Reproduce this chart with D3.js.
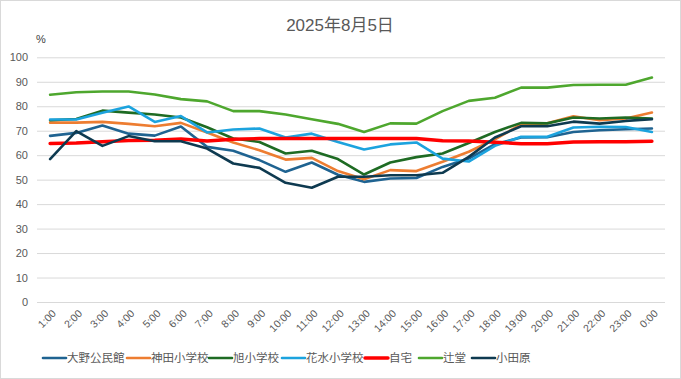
<!DOCTYPE html>
<html>
<head>
<meta charset="utf-8">
<script src="https://cdn.jsdelivr.net/npm/d3@7"></script>
<style>
  body { margin: 0; background: #fff; }
  svg { font-family: "Liberation Sans", "Noto Sans CJK JP", sans-serif; }
</style>
</head>
<body>
<div id="chart"></div>
<script>
const hours = ["1:00","2:00","3:00","4:00","5:00","6:00","7:00","8:00","9:00","10:00","11:00","12:00",
  "13:00","14:00","15:00","16:00","17:00","18:00","19:00","20:00","21:00","22:00","23:00","0:00"];
const yTicks = [0, 10, 20, 30, 40, 50, 60, 70, 80, 90, 100];

const ohno     = [67.9,69.1,72.1,68.8,68.0,71.7,63.4,61.8,58.0,53.2,57.0,52.0,49.1,50.5,50.7,55.2,58.6,64.5,67.2,67.3,69.5,70.2,70.6,70.9];
const kanda    = [73.3,73.3,73.6,72.8,71.8,73.2,69.3,65.2,62.0,58.2,58.9,53.5,50.2,53.9,53.5,57.3,61.4,66.5,72.6,73.0,75.9,74.3,75.0,77.4];
const asahi    = [74.3,74.8,78.2,77.4,76.6,75.4,71.4,66.8,65.4,60.7,61.8,58.4,52.1,57.0,59.2,60.7,65.0,69.5,73.2,73.0,75.4,75.0,75.4,75.0];
const hanamizu = [74.6,74.6,77.3,79.9,73.6,76.0,69.3,70.5,70.9,67.2,68.8,65.4,62.3,64.4,65.2,58.6,57.4,63.8,67.5,67.5,71.3,71.6,71.5,69.5];
const home     = [64.8,65.0,65.5,66.0,66.1,66.6,65.8,66.5,66.8,66.8,66.8,66.8,66.8,66.8,66.8,65.9,65.8,65.3,64.7,64.7,65.4,65.5,65.5,65.7];
const tsujido  = [84.7,85.7,86.0,86.0,84.8,82.9,82.0,78.0,78.0,76.6,74.7,72.8,69.5,73.0,72.9,78.0,82.2,83.5,87.6,87.6,88.7,88.8,88.8,91.7];
const odawara  = [58.4,69.8,63.8,67.8,65.7,65.7,62.7,56.6,54.8,48.7,46.7,51.2,51.2,51.8,51.8,52.8,59.3,67.2,71.8,71.8,73.7,72.9,74.0,74.7];

const seriesNames  = ["大野公民館","神田小学校","旭小学校","花水小学校","自宅","辻堂","小田原"];
const seriesValues = [ohno, kanda, asahi, hanamizu, home, tsujido, odawara];
const seriesColors = ["#1f6391","#ed7d31","#1e6b23","#1ca3de","#ff0000","#4ea72e","#0e3a50"];
const seriesWidths = [2.6, 2.6, 2.6, 2.6, 3.4, 2.6, 2.6];

const W = 681, H = 379;
const plotLeft = 37, plotRight = 665, plotTop = 57.3, plotBottom = 302;
const textColor = "#595959";

const svg = d3.select("#chart").append("svg")
  .attr("width", W)
  .attr("height", H);

svg.append("rect")
  .attr("x", 0.5).attr("y", 0.5)
  .attr("width", W - 1).attr("height", H - 1)
  .attr("fill", "#fff")
  .attr("stroke", "#d9d9d9");

const x = d3.scalePoint().domain(hours).range([plotLeft, plotRight]).padding(0.5);
const y = d3.scaleLinear().domain([0, 100]).range([plotBottom, plotTop]);

// grid + y labels
const yAxis = svg.append("g")
  .attr("transform", `translate(${plotLeft},0)`)
  .call(d3.axisLeft(y).tickValues(yTicks).tickSize(-(plotRight - plotLeft)).tickPadding(9));
yAxis.select(".domain").remove();
yAxis.selectAll(".tick line").attr("stroke", "#d9d9d9").attr("stroke-width", 1);
yAxis.selectAll(".tick text")
  .attr("fill", textColor)
  .style("font-size", "11px");

// x labels, rotated
const xAxis = svg.append("g")
  .attr("transform", `translate(0,${plotBottom})`)
  .call(d3.axisBottom(x).tickSize(0));
xAxis.select(".domain").remove();
xAxis.selectAll(".tick text")
  .attr("fill", textColor)
  .style("font-size", "10.5px")
  .attr("text-anchor", "end")
  .attr("dy", 0)
  .attr("transform", "translate(4,10) rotate(-45)");

const line = d3.line()
  .x((d, i) => x(hours[i]))
  .y(d => y(d));

svg.append("g")
  .selectAll("path")
  .data(seriesValues)
  .join("path")
  .attr("d", line)
  .attr("fill", "none")
  .attr("stroke", (d, i) => seriesColors[i])
  .attr("stroke-width", (d, i) => seriesWidths[i])
  .attr("stroke-linejoin", "round")
  .attr("stroke-linecap", "round");

// title and unit
svg.append("text")
  .attr("x", 340).attr("y", 31)
  .attr("text-anchor", "middle")
  .attr("fill", textColor)
  .style("font-size", "17px")
  .text("2025年8月5日");

svg.append("text")
  .attr("x", 36).attr("y", 43)
  .attr("fill", "#404040")
  .style("font-size", "11px")
  .text("%");

// legend
const legendX = [43, 127, 209, 282, 365, 419, 472];
const legend = svg.append("g")
  .selectAll("g")
  .data(seriesNames)
  .join("g")
  .attr("transform", (d, i) => `translate(${legendX[i]},358)`);
legend.append("line")
  .attr("x1", 0).attr("x2", 23)
  .attr("stroke", (d, i) => seriesColors[i])
  .attr("stroke-width", (d, i) => seriesWidths[i])
  .attr("stroke-linecap", "round");
legend.append("text")
  .attr("x", 24).attr("y", 4)
  .attr("fill", textColor)
  .style("font-size", "11.5px")
  .text(d => d);
</script>
</body>
</html>
